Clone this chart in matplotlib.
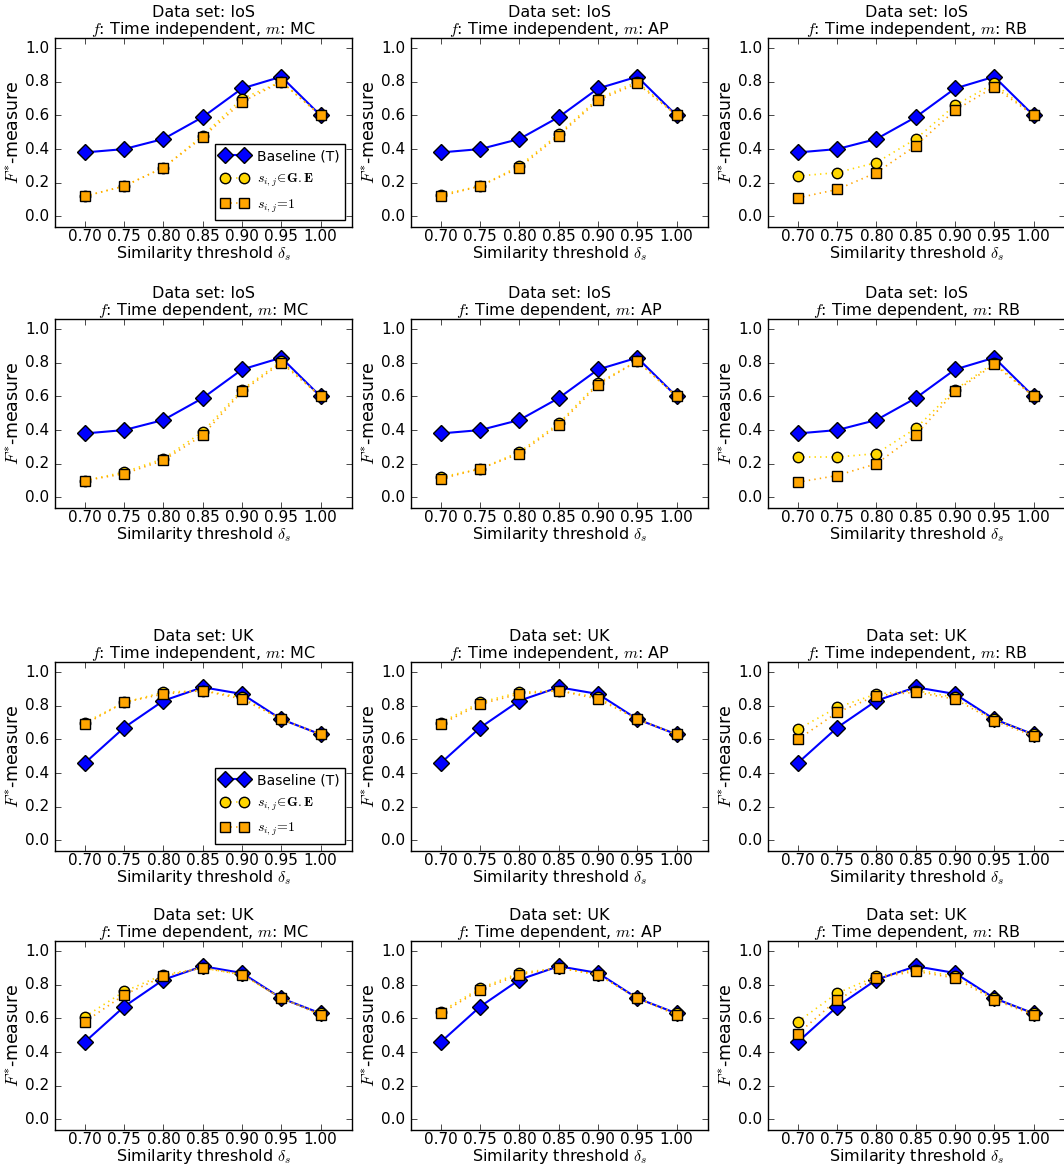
import matplotlib
matplotlib.use("Agg")
import matplotlib.pyplot as plt

plt.style.use("classic")
plt.rcParams["mathtext.fontset"] = "cm"
plt.rcParams["font.family"] = "DejaVu Sans"

thresholds = [0.70, 0.75, 0.80, 0.85, 0.90, 0.95, 1.00]

baseline_ios = [0.38, 0.40, 0.46, 0.59, 0.76, 0.83, 0.60]
baseline_uk = [0.46, 0.67, 0.83, 0.91, 0.87, 0.72, 0.63]

# (dataset, f, m) -> (s in G.E, s = 1)
ios_ti_mc_ge = [0.12, 0.18, 0.29, 0.48, 0.70, 0.80, 0.60]
ios_ti_mc_one = [0.12, 0.18, 0.29, 0.47, 0.68, 0.80, 0.60]
ios_ti_ap_ge = [0.13, 0.18, 0.30, 0.49, 0.70, 0.80, 0.60]
ios_ti_ap_one = [0.12, 0.18, 0.29, 0.48, 0.69, 0.79, 0.60]
ios_ti_rb_ge = [0.24, 0.26, 0.32, 0.46, 0.66, 0.79, 0.60]
ios_ti_rb_one = [0.11, 0.16, 0.26, 0.42, 0.63, 0.77, 0.60]

ios_td_mc_ge = [0.10, 0.15, 0.23, 0.39, 0.64, 0.81, 0.60]
ios_td_mc_one = [0.10, 0.14, 0.22, 0.37, 0.63, 0.80, 0.60]
ios_td_ap_ge = [0.12, 0.17, 0.27, 0.44, 0.68, 0.81, 0.60]
ios_td_ap_one = [0.11, 0.17, 0.26, 0.43, 0.67, 0.81, 0.60]
ios_td_rb_ge = [0.24, 0.24, 0.26, 0.41, 0.64, 0.80, 0.60]
ios_td_rb_one = [0.09, 0.13, 0.20, 0.37, 0.63, 0.79, 0.60]

uk_ti_mc_ge = [0.70, 0.82, 0.88, 0.89, 0.85, 0.72, 0.63]
uk_ti_mc_one = [0.69, 0.82, 0.87, 0.89, 0.84, 0.72, 0.63]
uk_ti_ap_ge = [0.70, 0.82, 0.88, 0.89, 0.85, 0.72, 0.63]
uk_ti_ap_one = [0.69, 0.81, 0.87, 0.89, 0.84, 0.72, 0.63]
uk_ti_rb_ge = [0.66, 0.79, 0.87, 0.89, 0.85, 0.72, 0.63]
uk_ti_rb_one = [0.60, 0.76, 0.86, 0.88, 0.84, 0.71, 0.62]

uk_td_mc_ge = [0.61, 0.76, 0.86, 0.90, 0.86, 0.72, 0.63]
uk_td_mc_one = [0.58, 0.74, 0.85, 0.90, 0.86, 0.72, 0.62]
uk_td_ap_ge = [0.64, 0.78, 0.87, 0.90, 0.86, 0.72, 0.63]
uk_td_ap_one = [0.63, 0.77, 0.86, 0.90, 0.86, 0.72, 0.62]
uk_td_rb_ge = [0.58, 0.75, 0.85, 0.89, 0.85, 0.72, 0.63]
uk_td_rb_one = [0.51, 0.71, 0.84, 0.88, 0.84, 0.71, 0.62]

panels = [
    ["IoS", "Time independent", "MC", baseline_ios, ios_ti_mc_ge, ios_ti_mc_one],
    ["IoS", "Time independent", "AP", baseline_ios, ios_ti_ap_ge, ios_ti_ap_one],
    ["IoS", "Time independent", "RB", baseline_ios, ios_ti_rb_ge, ios_ti_rb_one],
    ["IoS", "Time dependent", "MC", baseline_ios, ios_td_mc_ge, ios_td_mc_one],
    ["IoS", "Time dependent", "AP", baseline_ios, ios_td_ap_ge, ios_td_ap_one],
    ["IoS", "Time dependent", "RB", baseline_ios, ios_td_rb_ge, ios_td_rb_one],
    ["UK", "Time independent", "MC", baseline_uk, uk_ti_mc_ge, uk_ti_mc_one],
    ["UK", "Time independent", "AP", baseline_uk, uk_ti_ap_ge, uk_ti_ap_one],
    ["UK", "Time independent", "RB", baseline_uk, uk_ti_rb_ge, uk_ti_rb_one],
    ["UK", "Time dependent", "MC", baseline_uk, uk_td_mc_ge, uk_td_mc_one],
    ["UK", "Time dependent", "AP", baseline_uk, uk_td_ap_ge, uk_td_ap_one],
    ["UK", "Time dependent", "RB", baseline_uk, uk_td_rb_ge, uk_td_rb_one],
]

W, H = 1064, 1166
fig = plt.figure(figsize=(W / 100, H / 100), dpi=100, facecolor="white")

col_left = [55, 411, 768]
row_top = [38, 319, 662, 941]
ax_w, ax_h = 297, 189

for i, (ds, f, m, base, ge, one) in enumerate(panels):
    r, c = divmod(i, 3)
    ax = fig.add_axes([col_left[c] / W, 1 - (row_top[r] + ax_h) / H, ax_w / W, ax_h / H])
    ax.plot(thresholds, base, color="blue", lw=1.5, marker="D", ms=8,
            mfc="blue", mec="black", mew=1, label="Baseline (T)")
    ax.plot(thresholds, ge, color="gold", lw=1.2, ls=":", marker="o", ms=7.5,
            mfc="gold", mec="black", mew=1, label=r"$s_{i,j}\!\in\!\mathbf{G.E}$")
    ax.plot(thresholds, one, color="orange", lw=1.2, ls=":", marker="s", ms=7.5,
            mfc="orange", mec="black", mew=1, label=r"$s_{i,j}\!=\!1$")
    ax.set_xlim(0.662, 1.04)
    ax.set_ylim(-0.063, 1.06)
    ax.set_xticks(thresholds)
    ax.set_xticklabels(["%.2f" % t for t in thresholds])
    ax.set_yticks([0.0, 0.2, 0.4, 0.6, 0.8, 1.0])
    ax.tick_params(labelsize=11)
    ax.tick_params(axis="x", pad=1.5)
    ax.set_title("Data set: %s\n$f$: %s, $m$: %s" % (ds, f, m), fontsize=11.5,
                 linespacing=1.0, pad=3)
    ax.set_xlabel(r"Similarity threshold $\delta_s$", fontsize=11.5, labelpad=0)
    ax.set_ylabel(r"$F^{*}$-measure", fontsize=12.5, labelpad=1)
    if c == 0 and r in (0, 2):
        ax.legend(loc="lower right", fontsize=10, numpoints=2, fancybox=False,
                  handlelength=2.0, borderpad=0.4, labelspacing=0.6,
                  handletextpad=0.6, borderaxespad=0.5)

fig.savefig("out.png", dpi=100, facecolor="white")
